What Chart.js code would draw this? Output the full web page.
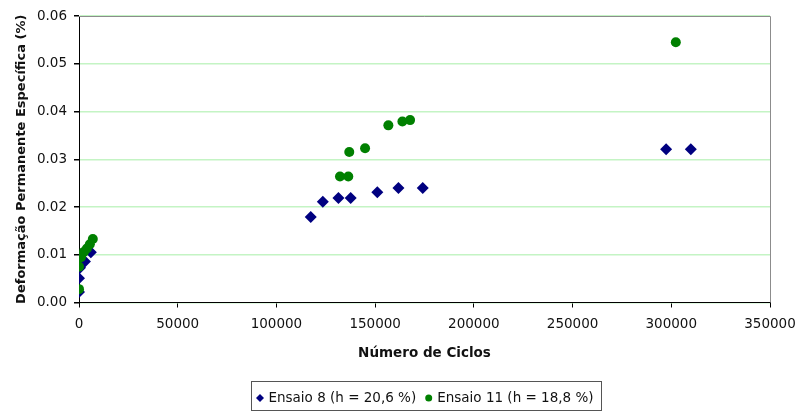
<!DOCTYPE html>
<html>
<head>
<meta charset="utf-8">
<script src="https://cdn.jsdelivr.net/npm/chart.js@4"></script>
<style>
  body { margin: 0; background: #fff; }
  #wrap { width: 795px; height: 412px; }
</style>
</head>
<body>
<div id="wrap"><canvas id="chart" width="795" height="412"></canvas></div>
<script>
// Ensaio 8 (h = 20,6 %)
const ensaio8Ciclos = [0, 0, 500, 3000, 6000, 117400, 123500, 131400, 137600, 151100, 161800, 174100, 297400, 309900];
const ensaio8Deform = [0.0022, 0.0051, 0.0073, 0.0086, 0.0105, 0.0179, 0.0211, 0.0219, 0.0219, 0.0231, 0.0240, 0.0240, 0.0321, 0.0321];
// Ensaio 11 (h = 18,8 %)
const ensaio11Ciclos = [0, 0, 0, 1000, 2500, 4000, 5500, 7000, 132200, 136400, 136900, 144900, 156700, 163800, 167700, 302300];
const ensaio11Deform = [0.0028, 0.0075, 0.0093, 0.0095, 0.0106, 0.0113, 0.0122, 0.0133, 0.0264, 0.0264, 0.0315, 0.0323, 0.0371, 0.0379, 0.0382, 0.0545];

const seriesLabels = ['Ensaio 8 (h = 20,6 %)', 'Ensaio 11 (h = 18,8 %)'];
const xTitle = 'Número de Ciclos';
const yTitle = 'Deformação Permanente Específica (%)';

const toPoints = (xs, ys) => xs.map((x, i) => ({ x: x, y: ys[i] }));

// border on top/right of the plot + boxed legend under the chart
const frameAndLegend = {
  id: 'frameAndLegend',
  afterDraw(chart) {
    const ctx = chart.ctx;
    const a = chart.chartArea;
    ctx.save();
    ctx.strokeStyle = '#8c8c8c';
    ctx.lineWidth = 1;
    ctx.beginPath();
    ctx.moveTo(a.left, Math.round(a.top) + 0.5);
    ctx.lineTo(Math.round(a.right) + 0.5, Math.round(a.top) + 0.5);
    ctx.lineTo(Math.round(a.right) + 0.5, a.bottom);
    ctx.stroke();

    ctx.font = '13.5px "DejaVu Sans"';
    ctx.textBaseline = 'middle';
    const markW = 9, gap = 4, itemGap = 8;
    const items = chart.data.datasets.map(ds => ({
      ds: ds, w: markW + gap + ctx.measureText(ds.label).width
    }));
    const total = items.reduce((s, it) => s + it.w, 0) + itemGap * (items.length - 1);
    const cx = (a.left + a.right) / 2;
    const y = 398;
    let x = cx - total / 2;
    ctx.strokeStyle = '#555';
    ctx.strokeRect(Math.round(x - 4) + 0.5, 381.5, Math.round(total + 12), 29);
    items.forEach(it => {
      const mx = x + markW / 2;
      ctx.fillStyle = it.ds.backgroundColor;
      ctx.beginPath();
      if (it.ds.pointStyle === 'rectRot') {
        ctx.moveTo(mx, y - 4); ctx.lineTo(mx + 4, y); ctx.lineTo(mx, y + 4); ctx.lineTo(mx - 4, y);
        ctx.closePath();
      } else {
        ctx.arc(mx, y, 3.5, 0, Math.PI * 2);
      }
      ctx.fill();
      ctx.fillStyle = '#111';
      ctx.fillText(it.ds.label, x + markW + gap, y + 0.5);
      x += it.w + itemGap;
    });
    ctx.restore();
  }
};

new Chart(document.getElementById('chart'), {
  type: 'scatter',
  data: {
    datasets: [
      {
        label: seriesLabels[0],
        data: toPoints(ensaio8Ciclos, ensaio8Deform),
        pointStyle: 'rectRot',
        pointRadius: 6,
        borderWidth: 0,
        backgroundColor: '#000080',
        borderColor: '#000080',
        order: 2
      },
      {
        label: seriesLabels[1],
        data: toPoints(ensaio11Ciclos, ensaio11Deform),
        pointStyle: 'circle',
        pointRadius: 5,
        borderWidth: 0,
        backgroundColor: '#008000',
        borderColor: '#008000',
        order: 1
      }
    ]
  },
  options: {
    responsive: false,
    animation: false,
    layout: { padding: { top: 16, right: 25, left: 0, bottom: 40 } },
    plugins: { legend: { display: false }, tooltip: { enabled: false } },
    scales: {
      x: {
        type: 'linear',
        min: 0,
        max: 350000,
        ticks: {
          stepSize: 50000,
          padding: 9,
          color: '#111',
          font: { family: 'DejaVu Sans', size: 13.5 },
          callback: v => String(v),
          maxRotation: 0
        },
        grid: { drawOnChartArea: false, drawTicks: true, tickLength: 5, color: '#000' },
        border: { color: '#000' },
        title: {
          display: true,
          text: xTitle,
          color: '#111',
          font: { family: 'DejaVu Sans', size: 13.5, weight: 'bold' },
          padding: { top: 0, bottom: 10.5 }
        },
        afterFit(scale) {
          scale.height = 69.5;
          scale.paddingLeft = 0;
          scale.paddingRight = 0;
        }
      },
      y: {
        min: 0,
        max: 0.06,
        ticks: {
          stepSize: 0.01,
          padding: 7,
          color: '#111',
          font: { family: 'DejaVu Sans', size: 13.5 },
          callback: v => v.toFixed(2)
        },
        grid: { color: '#c4f4c4', lineWidth: 1.5, tickColor: '#000', tickLength: 5 },
        border: { color: '#000' },
        title: {
          display: true,
          text: yTitle,
          color: '#111',
          font: { family: 'DejaVu Sans', size: 13, weight: 'bold' },
          padding: { top: 14, bottom: 0 }
        },
        afterFit(scale) {
          scale.width = 79;
          scale.paddingTop = 0;
          scale.paddingBottom = 0;
        }
      }
    }
  },
  plugins: [frameAndLegend]
});
</script>
</body>
</html>
